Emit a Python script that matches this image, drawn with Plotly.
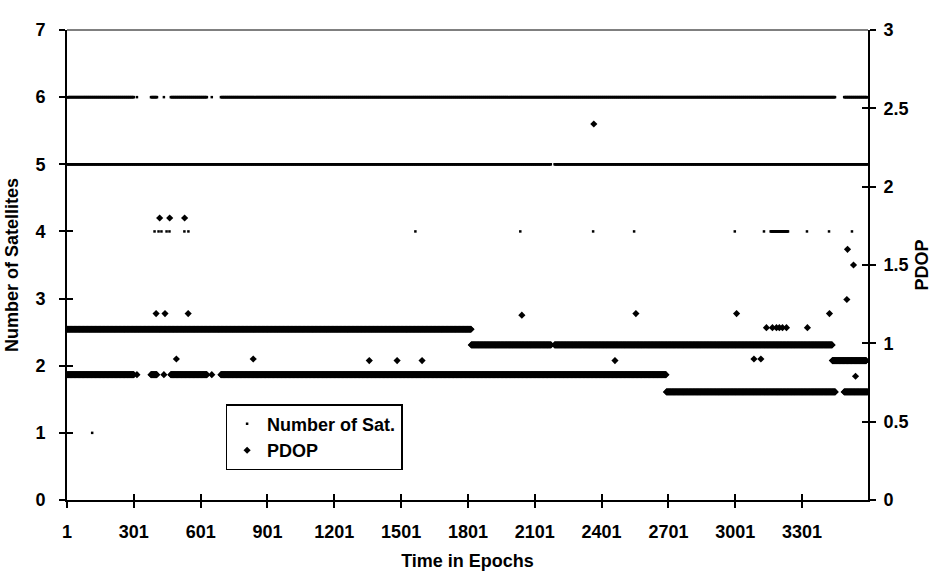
import plotly.graph_objects as go

# ---------------- data ----------------
# Number of satellites: constant runs (start epoch, end epoch, value)
sat_run_start = [1, 378, 467, 692, 3490, 1, 2190, 3160]
sat_run_end   = [301, 405, 629, 3450, 3597, 2175, 3597, 3238]
sat_run_value = [6, 6, 6, 6, 6, 5, 5, 4]
# Number of satellites: isolated epochs
sat_pt_epoch = [315, 436, 651, 394, 412, 425, 448, 461, 528, 546, 1565, 2036,
                2363, 2547, 2999, 3130, 3323, 3422, 3525, 114]
sat_pt_value = [6, 6, 6, 4, 4, 4, 4, 4, 4, 4, 4, 4,
                4, 4, 4, 4, 4, 4, 4, 1]

# PDOP: constant runs
pdop_run_start = [1, 1816, 2190, 3437, 1, 378, 467, 692, 2692, 3490]
pdop_run_end   = [1815, 2175, 3436, 3590, 301, 405, 629, 2690, 3450, 3597]
pdop_run_value = [1.09, 0.99, 0.99, 0.89, 0.80, 0.80, 0.80, 0.80, 0.69, 0.69]
# PDOP: isolated epochs
pdop_pt_epoch = [315, 436, 651, 417, 462, 529, 401, 441, 545, 492, 837,
                 1358, 1483, 1595, 2461, 2043, 2366, 2555, 3007,
                 3141, 3168, 3186, 3199, 3213, 3231, 3085, 3116,
                 3325, 3424, 3502, 3505, 3532, 3541]
pdop_pt_value = [0.80, 0.80, 0.80, 1.80, 1.80, 1.80, 1.19, 1.19, 1.19, 0.90, 0.90,
                 0.89, 0.89, 0.89, 0.89, 1.18, 2.40, 1.19, 1.19,
                 1.10, 1.10, 1.10, 1.10, 1.10, 1.10, 0.90, 0.90,
                 1.10, 1.19, 1.28, 1.60, 1.50, 0.79]

x_ticks = [1, 301, 601, 901, 1201, 1501, 1801, 2101, 2401, 2701, 3001, 3301]
x_range = [1, 3597]
sat_range = [0, 7]
pdop_range = [0, 3]


def expand(starts, ends, values, px, pv, step=2):
    xs, ys = [], []
    for s, e, v in zip(starts, ends, values):
        for t in range(s, e + 1, step):
            xs.append(t)
            ys.append(v)
    xs += list(px)
    ys += list(pv)
    return xs, ys


sx, sy = expand(sat_run_start, sat_run_end, sat_run_value, sat_pt_epoch, sat_pt_value, step=3)
px_, py_ = expand(pdop_run_start, pdop_run_end, pdop_run_value, pdop_pt_epoch, pdop_pt_value)

TICKFONT = dict(family="Liberation Sans, Arial", size=18, color="black", weight="bold")
TITLEFONT = dict(family="Liberation Sans, Arial", size=18, color="black", weight="bold")

fig = go.Figure()
fig.add_trace(go.Scatter(
    x=sx, y=sy, mode="markers", name="Number of Sat.",
    marker=dict(symbol="square", size=2.5, color="black", line=dict(width=0)),
    yaxis="y"))
fig.add_trace(go.Scatter(
    x=px_, y=py_, mode="markers", name="PDOP",
    marker=dict(symbol="diamond", size=5.5, color="black", line=dict(width=0)),
    yaxis="y2"))

axis_common = dict(showgrid=False, zeroline=False, linecolor="black",
                   tickcolor="black", tickwidth=2, ticklen=6)

fig.update_layout(
    width=932, height=573,
    margin=dict(l=67, r=64, t=30, b=73, autoexpand=False),
    paper_bgcolor="white", plot_bgcolor="white",
    showlegend=True,
    legend=dict(x=0.198, y=0.204, xanchor="left", yanchor="top",
                bgcolor="white", bordercolor="black", borderwidth=1.5,
                font=dict(family="Liberation Sans, Arial", size=18, color="black", weight="bold"),
                itemwidth=30, tracegroupgap=4),
    xaxis=dict(range=x_range, tickvals=x_ticks, ticktext=[str(v) for v in x_ticks],
               ticks="outside", showline=True, linewidth=2, tickfont=TICKFONT,
               title=dict(text="Time in Epochs", font=TITLEFONT, standoff=14),
               ticklabelstandoff=8, **axis_common),
    xaxis2=dict(range=x_range, tickvals=x_ticks, overlaying="x", anchor="y",
                side="bottom", ticks="inside", showticklabels=False, showline=False,
                **axis_common),
    yaxis=dict(range=sat_range, dtick=1, ticks="outside", showline=True, linewidth=2,
               tickfont=TICKFONT, ticklabelstandoff=10,
               title=dict(text="Number of Satellites", font=TITLEFONT, standoff=12),
               **axis_common),
    yaxis3=dict(range=sat_range, dtick=1, overlaying="y", anchor="x", side="left",
                ticks="inside", showticklabels=False, showline=False, **axis_common),
    yaxis2=dict(range=pdop_range, dtick=0.5, overlaying="y", anchor="x", side="right",
                ticks="outside", showline=True, linewidth=2, tickfont=TICKFONT,
                ticklabelstandoff=4,
                title=dict(text="PDOP", font=TITLEFONT, standoff=12),
                **axis_common),
    yaxis4=dict(range=pdop_range, dtick=0.5, overlaying="y", anchor="x", side="right",
                ticks="inside", showticklabels=False, showline=False, **axis_common),
    shapes=[dict(type="line", xref="paper", yref="paper", x0=0, x1=1, y0=1, y1=1,
                 line=dict(color="black", width=1))],
)
# invisible traces so that the overlay tick axes are drawn
fig.add_trace(go.Scatter(x=[x_range[0]], y=[0], xaxis="x2", yaxis="y3", mode="markers",
                         marker=dict(opacity=0), showlegend=False, hoverinfo="skip"))
fig.add_trace(go.Scatter(x=[x_range[0]], y=[0], xaxis="x", yaxis="y4", mode="markers",
                         marker=dict(opacity=0), showlegend=False, hoverinfo="skip"))

fig.write_html("out.html")
